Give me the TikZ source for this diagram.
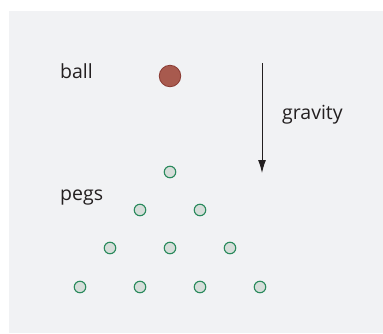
\documentclass[tikz,border=0pt]{standalone}
\usepackage{fontspec}
\setmainfont{Open Sans}
\usetikzlibrary{arrows.meta}
\definecolor{panelgray}{HTML}{F1F2F4}
\definecolor{ballred}{HTML}{A85A4E}
\definecolor{ballrim}{HTML}{8A3A32}
\definecolor{pegfill}{HTML}{D6DDD9}
\definecolor{pegrim}{HTML}{2A8A5C}
\definecolor{inkgray}{HTML}{231F20}
\tikzset{
  label/.style={text=inkgray, font=\fontsize{19.5}{22}\selectfont, anchor=west, inner sep=0pt},
  peg/.style={circle, draw=pegrim, fill=pegfill, line width=1.1pt, minimum size=11.5pt, inner sep=0pt},
  ball/.style={circle, draw=ballrim, fill=ballred, line width=0.8pt, minimum size=21.5pt, inner sep=0pt}
}
\begin{document}
\begin{tikzpicture}[x=1pt, y=-1pt]
                \useasboundingbox (0, 0) rectangle (383, 333);
                \fill[panelgray] (9, 11) rectangle (383, 333);
                \node[label] (balltext) at (60, 71) {ball};
                \node[label] (pegtext) at (60, 198) {pegs};
                \node[label] (gravtext) at (282, 115) {gravity};
                \node[ball] (ball) at (170, 76) {};
                \coordinate (gtop) at (262, 63);
                \coordinate (gbot) at (262, 173);
                \draw[inkgray, line width=1pt, -{Latex[length=13pt, width=8pt]}] (gtop) -- (gbot);
                \foreach \r/\y in {1/172, 2/210, 3/248, 4/287}{
                    \foreach \k in {1,...,\r}{
                        \node[peg] (peg-\r-\k) at ({170 - 30*(\r-1) + 60*(\k-1)}, \y) {};
                    }
                }
            \end{tikzpicture}
\end{document}
